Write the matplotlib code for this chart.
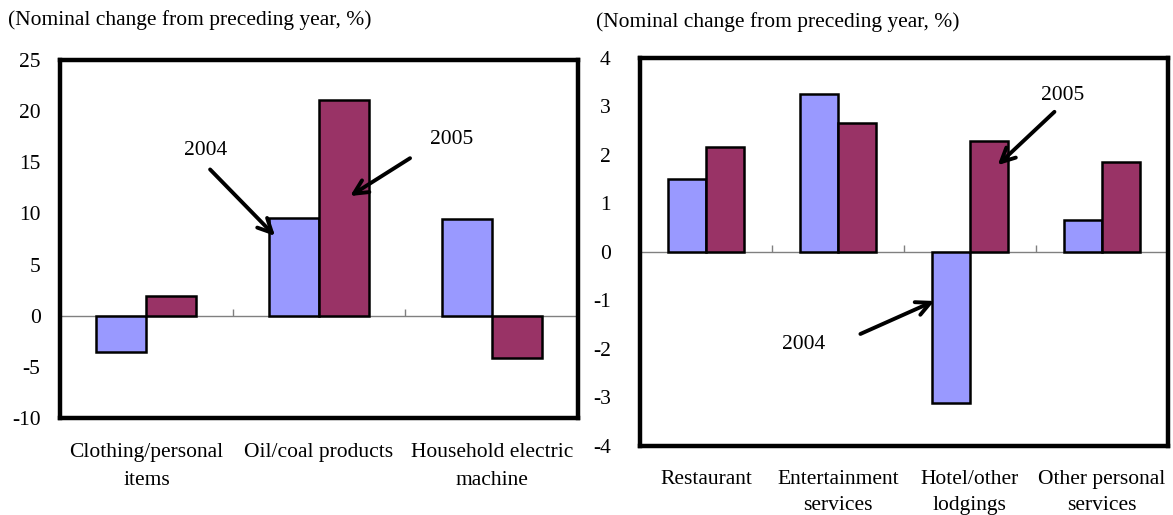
import numpy as np
import matplotlib
matplotlib.use("Agg")
import matplotlib.pyplot as plt

plt.rcParams["font.family"] = ["Liberation Serif", "DejaVu Serif"]
plt.rcParams["font.size"] = 15.5

# goods (left) and services (right), nominal change from preceding year
goods = ["Clothing/personal\nitems", "Oil/coal products", "Household electric\nmachine"]
goods_2004 = [-3.5, 9.6, 9.5]
goods_2005 = [1.9, 21.1, -4.1]

services = ["Restaurant", "Entertainment\nservices", "Hotel/other\nlodgings", "Other personal\nservices"]
services_2004 = [1.5, 3.25, -3.12, 0.65]
services_2005 = [2.16, 2.65, 2.29, 1.86]

ylabel = "(Nominal change from preceding year, %)"
c2004 = "#9999FF"
c2005 = "#993366"


def draw_panel(ax, labels, v04, v05, ylim, yticks, ypad, xpad, spacing):
    x = np.arange(len(labels))
    w = 0.29
    ax.bar(x - w / 2, v04, w, color=c2004, edgecolor="black", linewidth=1.8)
    ax.bar(x + w / 2, v05, w, color=c2005, edgecolor="black", linewidth=1.8)
    ax.axhline(0, color="gray", linewidth=1, zorder=0.5)
    # little separators on the zero line between categories
    tick_h = 0.018 * (ylim[1] - ylim[0])
    ax.vlines(x[:-1] + 0.5, 0, tick_h, color="gray", linewidth=1)
    ax.set_xlim(-0.5, len(labels) - 0.5)
    ax.set_ylim(*ylim)
    ax.set_yticks(yticks)
    ax.set_yticklabels([str(t) for t in yticks])
    ax.set_xticks(x)
    ax.set_xticklabels(labels, linespacing=spacing, va="top")
    ax.tick_params(axis="x", length=0, pad=xpad)
    ax.tick_params(axis="y", length=0, pad=ypad)
    for s in ax.spines.values():
        s.set_linewidth(3.2)
        s.set_color("black")


def arrow(ax, text, text_xy, tail, head):
    ax.annotate("", xy=head, xytext=tail,
                arrowprops=dict(arrowstyle="->,head_length=0.65,head_width=0.32",
                                color="black", lw=2.8, shrinkA=0, shrinkB=0))
    ax.text(text_xy[0], text_xy[1], text, ha="center", va="center")


fig = plt.figure(figsize=(11.73, 5.15), dpi=100)

ax1 = fig.add_axes([0.0512, 0.1883, 0.4416, 0.6952])
draw_panel(ax1, goods, goods_2004, goods_2005, (-10, 25), list(range(-10, 30, 5)), 14, 18, 1.65)
arrow(ax1, "2004", (0.345, 16.2), (0.369, 14.3), (0.745, 7.8))
arrow(ax1, "2005", (1.77, 17.2), (1.527, 15.4), (1.18, 11.7))

ax2 = fig.add_axes([0.5456, 0.134, 0.4501, 0.7534])
draw_panel(ax2, services, services_2004, services_2005, (-4, 4), list(range(-4, 5)), 21, 17, 1.5)
arrow(ax2, "2005", (2.70, 3.22), (2.64, 2.89), (2.21, 1.79))
arrow(ax2, "2004", (0.74, -1.9), (1.17, -1.69), (1.73, -1.01))

fig.text(8 / 1173, 1 - 20 / 515, ylabel, ha="left", va="center")
fig.text(596 / 1173, 1 - 22 / 515, ylabel, ha="left", va="center")

fig.savefig("out.png", dpi=100)
